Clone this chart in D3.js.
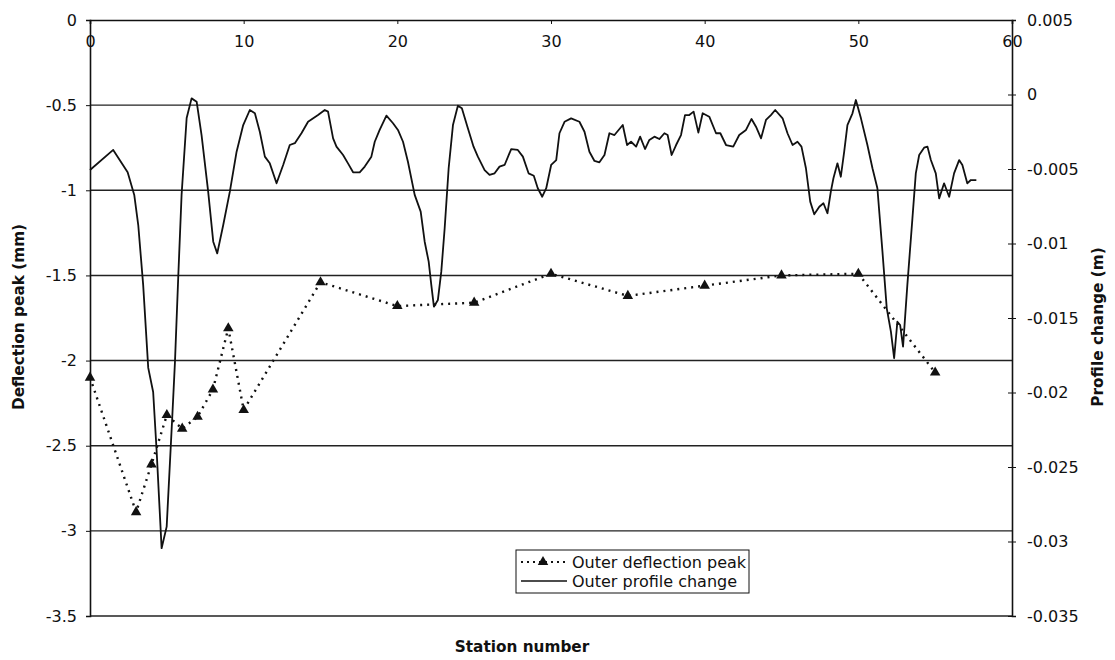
<!DOCTYPE html>
<html>
<head>
<meta charset="utf-8">
<script src="https://cdn.jsdelivr.net/npm/d3@7"></script>
<style>
  body { margin: 0; background: #fff; }
  svg { display: block; font-family: "DejaVu Sans", "Liberation Sans", Arial, sans-serif; }
</style>
</head>
<body>
<svg id="chart"></svg>
<script>
// station numbers along the top axis
const stationTicks = [0, 10, 20, 30, 40, 50, 60];
// left axis ticks (mm)
const deflectionTicks = [0, -0.5, -1, -1.5, -2, -2.5, -3, -3.5];
// right axis ticks (m)
const profileTicks = ["0.005", "0", "-0.005", "-0.01", "-0.015", "-0.02", "-0.025", "-0.03", "-0.035"];

// Outer deflection peak
const deflectionStations = [0, 3, 4, 5, 6, 7, 8, 9, 10, 15, 20, 25, 30, 35, 40, 45, 50, 55];
const deflectionValues = [-2.10, -2.89, -2.61, -2.32, -2.40, -2.33, -2.17, -1.81, -2.29, -1.54,
  -1.68, -1.66, -1.49, -1.62, -1.56, -1.50, -1.49, -2.07];

// Outer profile change
const profileStations = [0, 1.51, 2.45, 2.88, 3.14, 3.46, 3.79, 4.11, 4.34, 4.66, 4.99, 5.35, 5.53,
  5.74, 5.96, 6.29, 6.61, 6.94, 7.26, 7.69, 8.02, 8.28, 8.67, 9.10, 9.54, 9.97, 10.40, 10.73,
  11.05, 11.38, 11.70, 12.14, 12.57, 13.00, 13.33, 13.76, 14.19, 14.84, 15.28, 15.49, 15.82,
  16.04, 16.47, 16.79, 17.12, 17.55, 17.88, 18.31, 18.53, 18.85, 19.29, 19.72, 20.04, 20.37,
  20.69, 21.13, 21.52, 21.78, 22.04, 22.21, 22.38, 22.64, 22.86, 23.08, 23.34, 23.62, 23.94,
  24.20, 24.59, 24.96, 25.24, 25.68, 26.00, 26.33, 26.65, 26.98, 27.41, 27.84, 28.17, 28.54,
  28.88, 29.14, 29.43, 29.69, 30.01, 30.34, 30.55, 30.88, 31.31, 31.85, 32.18, 32.50, 32.83,
  33.15, 33.48, 33.80, 34.13, 34.67, 34.95, 35.21, 35.54, 35.80, 36.12, 36.40, 36.73, 37.05,
  37.38, 37.59, 37.85, 38.14, 38.46, 38.72, 39.00, 39.28, 39.59, 39.87, 40.30, 40.74, 41.02,
  41.39, 41.86, 42.25, 42.69, 43.05, 43.34, 43.67, 43.99, 44.31, 44.59, 45.07, 45.39, 45.72,
  46.04, 46.30, 46.59, 46.87, 47.13, 47.46, 47.73, 47.99, 48.21, 48.38, 48.64, 48.86, 49.08,
  49.29, 49.62, 49.84, 50.17, 50.59, 50.92, 51.24, 51.57, 51.85, 52.12, 52.33, 52.54, 52.72,
  52.91, 53.19, 53.52, 53.74, 53.96, 54.28, 54.50, 54.72, 55.04, 55.26, 55.58, 55.91, 56.23,
  56.56, 56.77, 57.09, 57.32, 57.68];
const profileValues = [-0.00507, -0.00372, -0.00522, -0.00674, -0.00876, -0.01278, -0.01835,
  -0.01997, -0.02399, -0.03045, -0.02900, -0.02171, -0.01793, -0.01231, -0.00674, -0.00158,
  -0.00026, -0.00048, -0.00272, -0.00652, -0.00988, -0.01066, -0.00876, -0.00652, -0.00384,
  -0.00205, -0.00104, -0.00126, -0.00250, -0.00417, -0.00462, -0.00596, -0.00473, -0.00339,
  -0.00327, -0.00260, -0.00183, -0.00138, -0.00104, -0.00115, -0.00294, -0.00350, -0.00406,
  -0.00462, -0.00522, -0.00522, -0.00484, -0.00417, -0.00317, -0.00238, -0.00142, -0.00193,
  -0.00238, -0.00317, -0.00451, -0.00674, -0.00786, -0.00988, -0.01122, -0.01278, -0.01424,
  -0.01379, -0.01189, -0.00898, -0.00495, -0.00205, -0.00075, -0.00093, -0.00227, -0.00350,
  -0.00417, -0.00507, -0.00540, -0.00529, -0.00484, -0.00473, -0.00366, -0.00372, -0.00417,
  -0.00529, -0.00545, -0.00629, -0.00686, -0.00629, -0.00473, -0.00440, -0.00260, -0.00183,
  -0.00160, -0.00183, -0.00250, -0.00384, -0.00446, -0.00455, -0.00406, -0.00260, -0.00272,
  -0.00205, -0.00339, -0.00317, -0.00350, -0.00283, -0.00366, -0.00305, -0.00283, -0.00299,
  -0.00260, -0.00272, -0.00406, -0.00339, -0.00272, -0.00138, -0.00138, -0.00115, -0.00256,
  -0.00126, -0.00149, -0.00260, -0.00260, -0.00339, -0.00350, -0.00272, -0.00238, -0.00164,
  -0.00216, -0.00294, -0.00171, -0.00138, -0.00104, -0.00160, -0.00260, -0.00339, -0.00317,
  -0.00350, -0.00495, -0.00719, -0.00804, -0.00753, -0.00730, -0.00797, -0.00652, -0.00562,
  -0.00462, -0.00552, -0.00384, -0.00205, -0.00126, -0.00037, -0.00160, -0.00339, -0.00495,
  -0.00629, -0.01055, -0.01435, -0.01592, -0.01770, -0.01525, -0.01547, -0.01692, -0.01278,
  -0.00831, -0.00529, -0.00406, -0.00357, -0.00350, -0.00440, -0.00529, -0.00697, -0.00596,
  -0.00686, -0.00529, -0.00440, -0.00473, -0.00596, -0.00574, -0.00574];

const width = 1115;
const height = 660;
const margin = { top: 20, right: 103, bottom: 44, left: 90 };
const inkColor = "#111";

const svg = d3.select("#chart")
  .attr("width", width)
  .attr("height", height)
  .attr("viewBox", `0 0 ${width} ${height}`);

const x = d3.scaleLinear()
  .domain([0, 60])
  .range([margin.left, width - margin.right]);

const yLeft = d3.scaleLinear()
  .domain([-3.5, 0])
  .range([height - margin.bottom, margin.top]);

const yRight = d3.scaleLinear()
  .domain([-0.035, 0.005])
  .range([height - margin.bottom, margin.top]);

// shared axis look
const styleAxis = (g) => {
  g.select(".domain").attr("stroke", inkColor).attr("stroke-width", 1.6);
  g.selectAll(".tick line").attr("stroke", inkColor);
  g.selectAll("text")
    .attr("fill", inkColor)
    .style("font-family", "'DejaVu Sans', sans-serif")
    .style("font-size", "16px");
};

// horizontal gridlines
svg.append("g")
  .selectAll("line")
  .data(deflectionTicks.filter((d) => d !== 0))
  .join("line")
  .attr("x1", x(0))
  .attr("x2", x(60))
  .attr("y1", (d) => yLeft(d))
  .attr("y2", (d) => yLeft(d))
  .attr("stroke", "#222")
  .attr("stroke-width", 1.4);

// left axis
svg.append("g")
  .attr("transform", `translate(${x(0)},0)`)
  .call(d3.axisLeft(yLeft).tickValues(deflectionTicks).tickFormat((d) => String(d)).tickSize(4).tickPadding(9))
  .call(styleAxis);

// right axis
svg.append("g")
  .attr("transform", `translate(${x(60)},0)`)
  .call(d3.axisRight(yRight).tickValues(profileTicks.map(Number)).tickFormat((d, i) => profileTicks[i]).tickSize(4).tickPadding(11))
  .call(styleAxis)
  .call((g) => g.selectAll(".tick line").attr("x1", -4));

// station axis along the top (crosses at 0)
svg.append("g")
  .attr("transform", `translate(0,${yLeft(0)})`)
  .call(d3.axisBottom(x).tickValues(stationTicks).tickFormat((d) => String(d)).tickSize(4).tickPadding(12))
  .call(styleAxis);

// profile change line
const profileLine = d3.line()
  .x((d) => x(d[0]))
  .y((d) => yRight(d[1]));

svg.append("path")
  .datum(d3.zip(profileStations, profileValues))
  .attr("d", profileLine)
  .attr("fill", "none")
  .attr("stroke", inkColor)
  .attr("stroke-width", 1.8)
  .attr("stroke-linejoin", "round");

// deflection peak line
const deflectionLine = d3.line()
  .x((d) => x(d[0]))
  .y((d) => yLeft(d[1]));

svg.append("path")
  .datum(d3.zip(deflectionStations, deflectionValues))
  .attr("d", deflectionLine)
  .attr("fill", "none")
  .attr("stroke", inkColor)
  .attr("stroke-width", 2.4)
  .attr("stroke-dasharray", "2,5");

const triangle = d3.symbol().type(d3.symbolTriangle).size(48);

svg.append("g")
  .selectAll("path")
  .data(d3.zip(deflectionStations, deflectionValues))
  .join("path")
  .attr("transform", (d) => `translate(${x(d[0])},${yLeft(d[1])})`)
  .attr("d", triangle)
  .attr("fill", inkColor);

// axis titles
svg.append("text")
  .attr("transform", "translate(24,317) rotate(-90)")
  .attr("text-anchor", "middle")
  .style("font-size", "15.3px")
  .style("font-weight", "bold")
  .attr("fill", inkColor)
  .text("Deflection peak (mm)");

svg.append("text")
  .attr("transform", "translate(1103,327) rotate(-90)")
  .attr("text-anchor", "middle")
  .style("font-size", "15.3px")
  .style("font-weight", "bold")
  .attr("fill", inkColor)
  .text("Profile change (m)");

svg.append("text")
  .attr("x", 522)
  .attr("y", 652)
  .attr("text-anchor", "middle")
  .style("font-size", "15.3px")
  .style("font-weight", "bold")
  .attr("fill", inkColor)
  .text("Station number");

// legend
const legend = svg.append("g").attr("transform", "translate(516,550)");

legend.append("rect")
  .attr("width", 233)
  .attr("height", 43)
  .attr("fill", "#fff")
  .attr("stroke", inkColor)
  .attr("stroke-width", 1);

legend.append("line")
  .attr("x1", 5).attr("x2", 51)
  .attr("y1", 12).attr("y2", 12)
  .attr("stroke", inkColor)
  .attr("stroke-width", 2.2)
  .attr("stroke-dasharray", "2,4");

legend.append("path")
  .attr("transform", "translate(27,12)")
  .attr("d", triangle)
  .attr("fill", inkColor);

legend.append("text")
  .attr("x", 56).attr("y", 18)
  .style("font-size", "16px")
  .attr("fill", inkColor)
  .text("Outer deflection peak");

legend.append("line")
  .attr("x1", 5).attr("x2", 51)
  .attr("y1", 31).attr("y2", 31)
  .attr("stroke", inkColor)
  .attr("stroke-width", 1.5);

legend.append("text")
  .attr("x", 56).attr("y", 37)
  .style("font-size", "16px")
  .attr("fill", inkColor)
  .text("Outer profile change");
</script>
</body>
</html>
